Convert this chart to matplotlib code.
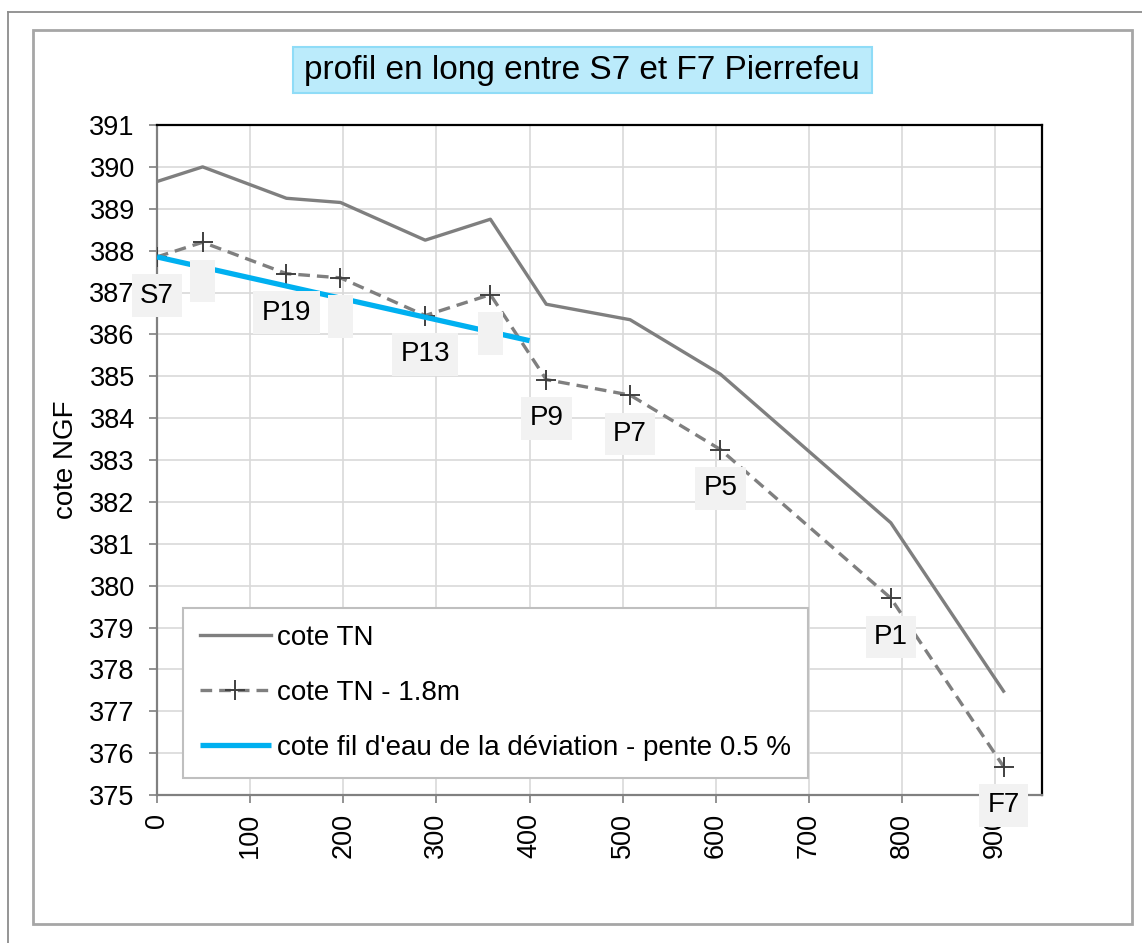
import matplotlib
matplotlib.use("Agg")
import matplotlib.pyplot as plt
from matplotlib.patches import Rectangle
from matplotlib.lines import Line2D

plt.rcParams['font.family'] = ['Liberation Sans', 'DejaVu Sans']

# ---- data ----
distance = [0, 49, 139, 197, 288, 358, 418, 508, 605, 788, 909]
cote_tn = [389.65, 390.0, 389.25, 389.15, 388.25, 388.75, 386.72, 386.35, 385.05, 381.5, 377.48]
cote_tn_18 = [387.85, 388.2, 387.45, 387.35, 386.45, 386.95, 384.92, 384.55, 383.25, 379.7, 375.68]
point_labels = ["S7", " ", "P19", " ", "P13", " ", "P9", "P7", "P5", "P1", "F7"]
dev_x = [0, 400]
dev_y = [387.85, 385.85]

title = "profil en long entre S7 et F7 Pierrefeu"
ylabel = "cote NGF"
series_names = ["cote TN", "cote TN - 1.8m", "cote fil d'eau de la déviation - pente 0.5 %"]
x_ticks = list(range(0, 901, 100))
y_ticks = list(range(375, 392))

W, H = 1142, 943
fig = plt.figure(figsize=(W / 100, H / 100), dpi=100)

def fx(px):
    return px / W

def fy(py):
    return 1 - py / H

# frames
fig.add_artist(Line2D([fx(8), fx(8)], [fy(12), fy(943)], color='#8c8c8c', lw=1.3))
fig.add_artist(Line2D([fx(8), fx(1142)], [fy(12), fy(12)], color='#8c8c8c', lw=1.3))
fig.add_artist(Rectangle((fx(33), fy(924)), fx(1132) - fx(33), fy(30) - fy(924),
                         transform=fig.transFigure, fill=False, ec='#a6a6a6', lw=2.0))

# title box
fig.add_artist(Rectangle((fx(293), fy(93)), fx(872) - fx(293), fy(47) - fy(93),
                         transform=fig.transFigure, fc='#bbebfb', ec='#8fdcf7', lw=1.5))
fig.text(fx(582), fy(70), title, ha='center', va='center', fontsize=24, color='black')

ax = fig.add_axes([157 / W, 1 - 795 / H, (1041.7 - 157) / W, (795 - 125) / H])
ax.set_xlim(0, 950)
ax.set_ylim(375, 391)
ax.set_xticks(x_ticks)
ax.set_yticks(y_ticks)
ax.grid(True, color='#d9d9d9', lw=1.2)
ax.set_axisbelow(True)

for s in ['left', 'bottom']:
    ax.spines[s].set_color('#808080')
    ax.spines[s].set_linewidth(1.6)
for s in ['top', 'right']:
    ax.spines[s].set_color('black')
    ax.spines[s].set_linewidth(1.6)

ax.tick_params(axis='y', direction='out', length=6, width=1.2, color='#808080',
               labelsize=19.5, pad=10)
ax.tick_params(axis='x', direction='out', length=6, width=1.2, color='#808080',
               labelsize=19.5, pad=7, labelrotation=90)

ax.plot(distance, cote_tn, color='#7f7f7f', lw=2.4, label=series_names[0], zorder=3)
ax.plot(distance, cote_tn_18, color='#7f7f7f', lw=2.4, dashes=(3.5, 2.1),
        marker='+', markersize=15, markeredgewidth=1.4, markeredgecolor='#404040',
        label=series_names[1], zorder=3)
ax.plot(dev_x, dev_y, color='#00b0f0', lw=3.8, label=series_names[2], zorder=4,
        solid_capstyle='butt')

for x, y, t in zip(distance, cote_tn_18, point_labels):
    ax.annotate(t, (x, y), xytext=(0, -28), textcoords='offset points',
                ha='center', va='center', fontsize=20, zorder=10,
                bbox=dict(boxstyle='square,pad=0.3', fc='#f2f2f2', ec='none'),
                annotation_clip=False)

ax.set_ylabel(ylabel, fontsize=20)
ax.yaxis.set_label_coords(-0.088, 0.5)

leg = ax.legend(loc='upper left', bbox_to_anchor=(fx(183), fy(608)),
                bbox_transform=fig.transFigure, borderaxespad=0,
                fontsize=20, handlelength=2.55, handletextpad=0.25,
                labelspacing=1.05, borderpad=0.6, fancybox=False,
                edgecolor='#bfbfbf', framealpha=1, numpoints=1)
leg.get_frame().set_linewidth(1.5)
leg.set_zorder(12)

fig.savefig("out.png", dpi=100)
